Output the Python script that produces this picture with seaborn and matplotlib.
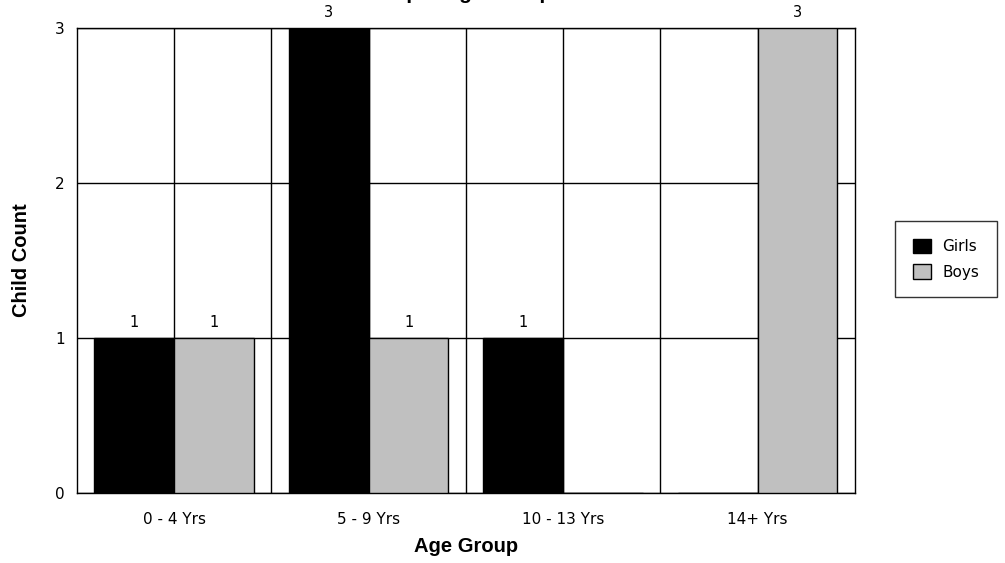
import matplotlib
matplotlib.use("Agg")
import matplotlib.pyplot as plt
import seaborn as sns
import pandas as pd
from matplotlib.patches import Patch

# Children per age group, split by gender
age_groups = ["0 - 4 Yrs", "5 - 9 Yrs", "10 - 13 Yrs", "14+ Yrs"]
genders = ["Girls", "Boys"]
girls = [1, 3, 1, 0]
boys = [1, 1, 0, 3]
y_ticks = [0, 1, 2, 3]

df = pd.DataFrame({
    "Age Group": age_groups * 2,
    "Gender": ["Girls"] * len(age_groups) + ["Boys"] * len(age_groups),
    "Child Count": girls + boys,
})

sns.set_theme(style="white")
plt.rcParams["font.family"] = ["Liberation Sans", "DejaVu Sans"]
plt.rcParams["text.color"] = "black"
plt.rcParams["axes.labelcolor"] = "black"
plt.rcParams["xtick.color"] = "black"
plt.rcParams["ytick.color"] = "black"
small_font = ["DejaVu Sans"]

colors = {"Girls": "#000000", "Boys": "#C0C0C0"}

fig = plt.figure(figsize=(10.05, 5.63), dpi=100)
ax = fig.add_axes([0.0766, 0.1243, 0.7741, 0.826])

sns.barplot(data=df, x="Age Group", y="Child Count", hue="Gender",
            order=age_groups, hue_order=genders, palette=colors,
            width=0.82, edgecolor="black", linewidth=1.0,
            saturation=1, legend=False, ax=ax, zorder=3)

# value labels on non-empty bars
for container in ax.containers:
    labels = [f"{int(v)}" if v > 0 else "" for v in container.datavalues]
    ax.bar_label(container, labels=labels, padding=6, fontsize=10.5,
                 color="black", family=small_font)

ax.set_xlim(-0.5, len(age_groups) - 0.5)
ax.set_ylim(0, 3)
ax.set_yticks(y_ticks)
ax.set_xticks(range(len(age_groups)))
ax.set_xticks([i + 0.5 for i in range(len(age_groups) - 1)], minor=True)
ax.set_xticklabels(age_groups, fontsize=11, family=small_font)
ax.set_yticklabels([str(t) for t in y_ticks], fontsize=11, family=small_font)
ax.tick_params(axis="x", which="both", length=0, pad=14, colors="black")
ax.tick_params(axis="y", which="both", length=0, pad=9, colors="black")
ax.set_axisbelow(True)
ax.grid(True, which="major", axis="both", color="black", linewidth=1.0)
ax.grid(True, which="minor", axis="x", color="black", linewidth=1.0)
for s in ax.spines.values():
    s.set_color("black")
    s.set_linewidth(1.0)
    s.set_visible(True)

ax.set_xlabel("Age Group", fontsize=14.5, fontweight="bold", labelpad=7,
              color="black")
ax.set_ylabel("Child Count", fontsize=14.5, fontweight="bold", labelpad=17,
              color="black")

fig.text(0.476, 1.0 + 1 / 563, "Child Count per Age Group and Gender",
         ha="center", va="baseline", fontsize=15, fontweight="bold",
         color="black")

handles = [Patch(facecolor=colors[g], edgecolor="black", label=g) for g in genders]
leg = fig.legend(handles=handles, loc="upper left",
                 bbox_to_anchor=(895 / 1005, 1 - 221 / 563),
                 frameon=True, fancybox=False, edgecolor="black",
                 prop={"family": small_font, "size": 11},
                 handlelength=1.2, handleheight=1.1,
                 borderpad=1.15, labelspacing=0.65, handletextpad=0.75,
                 borderaxespad=0)
leg.get_frame().set_linewidth(1.0)
for t in leg.get_texts():
    t.set_color("black")

fig.savefig("out.png", dpi=100)
